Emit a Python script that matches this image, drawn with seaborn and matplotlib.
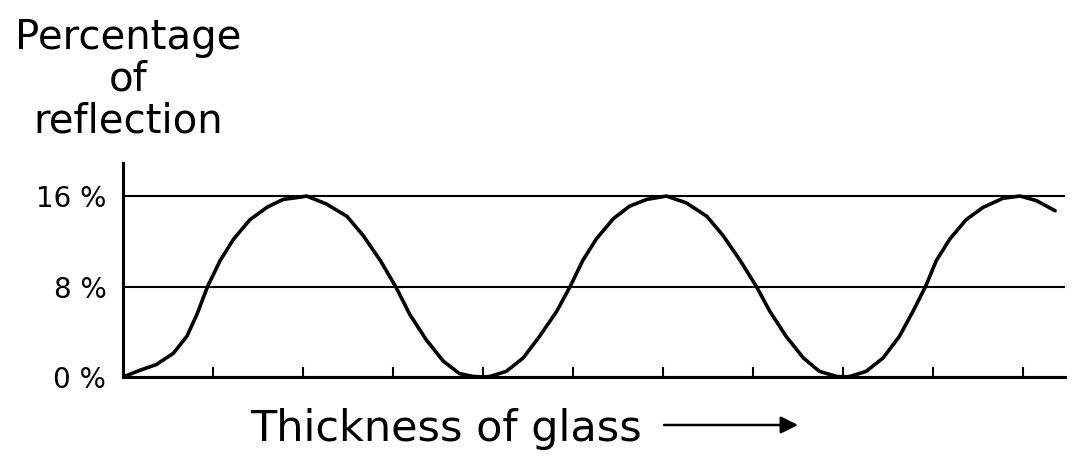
import matplotlib
matplotlib.use("Agg")
from matplotlib import pyplot as plt
import pandas as pd
import seaborn as sns

# thickness of glass, in units of the bottom tick spacing
thickness = [0.0, 0.19, 0.37, 0.56, 0.71, 0.82, 0.94, 1.08, 1.23, 1.41,
             1.60, 1.78, 1.97, 2.04, 2.26, 2.49, 2.67, 2.86, 3.03, 3.19,
             3.37, 3.56, 3.74, 3.89, 4.02, 4.08, 4.26, 4.45, 4.63, 4.82,
             4.97, 5.11, 5.26, 5.45, 5.63, 5.82, 5.97, 6.04, 6.26, 6.49,
             6.67, 6.86, 7.04, 7.19, 7.37, 7.56, 7.74, 7.93, 8.02, 8.08,
             8.26, 8.45, 8.63, 8.78, 8.92, 9.04, 9.19, 9.37, 9.56, 9.78,
             9.97, 10.15, 10.36]
# percentage of reflection
reflection = [0.0, 0.6, 1.1, 2.1, 3.6, 5.5, 8.0, 10.3, 12.2, 13.9,
              15.0, 15.7, 15.9, 16.0, 15.3, 14.2, 12.5, 10.3, 8.0, 5.5,
              3.3, 1.4, 0.3, 0.05, 0.0, 0.05, 0.5, 1.7, 3.6, 5.8,
              8.0, 10.3, 12.2, 14.0, 15.1, 15.7, 15.9, 16.0, 15.4, 14.2,
              12.5, 10.3, 8.0, 5.8, 3.6, 1.7, 0.5, 0.05, 0.0, 0.05,
              0.5, 1.7, 3.6, 5.8, 8.0, 10.3, 12.2, 13.9, 15.0, 15.8,
              16.0, 15.6, 14.7]
y_ticks = [0, 8, 16]
y_labels = ["0 %", "8 %", "16 %"]
x_ticks = [1, 2, 3, 4, 5, 6, 7, 8, 9, 10]

df = pd.DataFrame({"thickness": thickness, "reflection": reflection})

sns.set_style("ticks")
plt.rcParams["font.family"] = ["DejaVu Sans"]
plt.rcParams["text.color"] = "black"
plt.rcParams["ytick.labelcolor"] = "black"

fig = plt.figure(figsize=(10.8, 4.59), dpi=100)
ax = fig.add_axes([123 / 1080, 82 / 459, 942 / 1080, 214 / 459])

sns.lineplot(data=df, x="thickness", y="reflection", color="black",
             linewidth=2.6, ax=ax)

ax.set_xlim(0, 10.47)
ax.set_ylim(0, 18.92)
ax.set_xticks(x_ticks)
ax.set_xticklabels([])
ax.set_yticks(y_ticks)
ax.set_yticklabels(y_labels, fontsize=20, color="black")
ax.tick_params(axis="x", direction="in", length=7, width=1.5, color="black")
ax.tick_params(axis="y", length=0, pad=12)
ax.yaxis.grid(True, color="black", linewidth=1.5)
ax.set_xlabel("")
ax.set_ylabel("")

sns.despine(ax=ax, top=True, right=True)
for side in ["left", "bottom"]:
    ax.spines[side].set_linewidth(2.2)
    ax.spines[side].set_color("black")

fig.text(128 / 1080, 1 - 18 / 459, "Percentage\nof\nreflection",
         ha="center", va="top", fontsize=29, linespacing=1.05,
         multialignment="center", color="black")
fig.text(250 / 1080, 1 - 441 / 459, "Thickness of glass",
         ha="left", va="baseline", fontsize=31, color="black")
ax.annotate("", xy=(798 / 1080, 1 - 425 / 459),
            xytext=(664 / 1080, 1 - 425 / 459),
            xycoords="figure fraction", textcoords="figure fraction",
            arrowprops=dict(arrowstyle="-|>", color="black", lw=1.8,
                            mutation_scale=26, shrinkA=0, shrinkB=0))

fig.savefig("out.png", dpi=100)
